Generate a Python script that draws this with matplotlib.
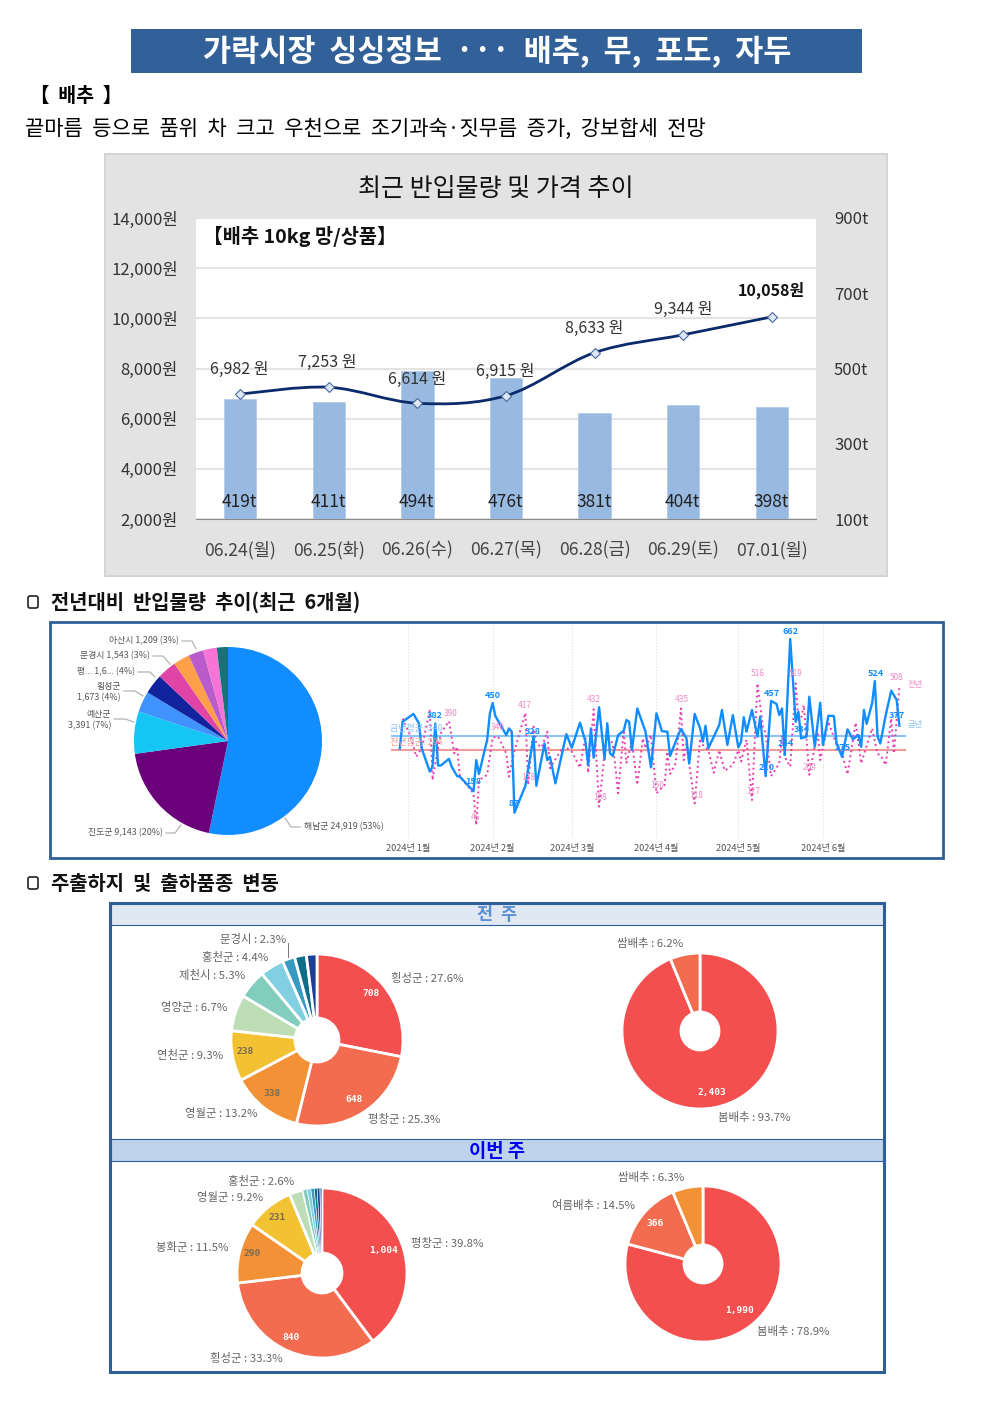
import matplotlib

matplotlib.use("Agg")
import matplotlib.pyplot as plt
from matplotlib.patches import FancyBboxPatch, PathPatch, Rectangle
from matplotlib.path import Path

plt.rcParams["font.family"] = ["Noto Sans CJK KR", "DejaVu Sans"]

W, H = 992, 1403

# top chart
dates = ["06.24(월)", "06.25(화)", "06.26(수)", "06.27(목)", "06.28(금)", "06.29(토)", "07.01(월)"]
volumes = [419, 411, 494, 476, 381, 404, 398]
prices = [6982, 7253, 6614, 6915, 8633, 9344, 10058]
price_ticks = [2000, 4000, 6000, 8000, 10000, 12000, 14000]
volume_ticks = [100, 300, 500, 700, 900]

# daily series, day number counted from 2024-01-01
this_year_days = [-3, -2, 2, 4, 5, 8, 9, 10, 11, 12, 15, 16, 18, 19, 24, 25, 26, 29, 30, 31, 32, 36, 37, 38, 39,
                  43, 46, 47, 50, 51, 52, 54, 58, 60, 63, 65, 66, 67, 68, 70, 72, 73, 74, 75, 77, 79, 80, 81, 82,
                  84, 87, 89, 91, 93, 95, 96, 99, 100, 102, 103, 105, 107, 108, 109, 110, 114, 115, 117, 119,
                  121, 122, 123, 124, 126, 128, 129, 131, 133, 135, 136, 137, 138, 140, 142, 143, 144, 146, 147,
                  149, 151, 152, 154, 156, 157, 159, 161, 163, 165, 166, 167, 168, 170, 171, 172, 173, 175, 177,
                  179, 180]
this_year = [300, 388, 414, 383, 300, 223, 239, 382, 243, 243, 265, 239, 208, 206, 158, 261, 215, 328, 416, 450,
             407, 344, 366, 355, 87, 176, 339, 176, 316, 261, 272, 184, 347, 302, 385, 322, 245, 366, 269, 436,
             264, 383, 283, 275, 344, 358, 394, 388, 294, 432, 355, 237, 416, 357, 355, 275, 344, 364, 333, 250,
             414, 366, 322, 375, 300, 377, 427, 311, 410, 303, 322, 403, 355, 427, 339, 405, 208, 457, 447, 410,
             432, 278, 662, 388, 421, 333, 339, 471, 305, 451, 311, 408, 407, 316, 272, 363, 330, 344, 305, 427,
             381, 449, 523, 339, 316, 410, 491, 460, 375]
last_year_days = [-2, 1, 3, 5, 8, 9, 10, 12, 15, 17, 18, 19, 24, 25, 26, 29, 31, 33, 36, 37, 39, 43, 44, 46, 47,
                  49, 51, 52, 57, 60, 63, 65, 66, 68, 70, 72, 73, 75, 77, 79, 80, 82, 84, 86, 87, 89, 91, 94, 95,
                  96, 98, 100, 101, 102, 103, 105, 107, 108, 110, 112, 114, 116, 119, 121, 122, 124, 126, 128,
                  130, 131, 133, 136, 137, 138, 140, 142, 143, 144, 145, 147, 150, 151, 154, 157, 159, 161, 164,
                  166, 170, 172, 173, 175, 177, 178, 180]
last_year = [399, 339, 272, 300, 425, 195, 250, 350, 390, 283, 305, 206, 151, 46, 195, 212, 336, 339, 283, 206,
             292, 417, 179, 372, 316, 303, 355, 234, 308, 289, 236, 339, 219, 429, 107, 283, 339, 316, 151, 361,
             252, 322, 179, 333, 300, 344, 151, 179, 289, 215, 250, 432, 261, 316, 250, 118, 333, 311, 294, 219,
             294, 226, 245, 294, 256, 328, 129, 515, 372, 350, 208, 250, 344, 272, 239, 515, 394, 399, 443, 212,
             355, 261, 388, 311, 283, 214, 385, 250, 366, 281, 278, 245, 399, 283, 504]
this_year_mean = 340
last_year_mean = 294
month_days = [0, 31, 60, 91, 121, 152]
month_labels = ["2024년 1월", "2024년 2월", "2024년 3월", "2024년 4월", "2024년 5월", "2024년 6월"]

# region pie (last slices have no label in the picture)
region_values = [24919, 9143, 3391, 1673, 1600, 1543, 1300, 1209, 1100, 900]
region_colors = ["#118DFF", "#6B007B", "#15C6F4", "#4092FF", "#12239E", "#E044A7", "#FF9F4A", "#B95BC8", "#F774D7", "#197278"]

# shipping regions and varieties
last_week_region = [708, 648, 338, 238, 172, 136, 113, 59, 56, 50]
this_week_region = [1004, 840, 290, 231, 66, 20, 18, 16, 14, 13, 10]
last_week_kind = [2403, 159]
this_week_kind = [1990, 366, 159]
donut_colors = ["#F44F4F", "#F36C4F", "#F29135", "#F2C233", "#BCDDB5", "#82CDBC", "#80D0E2", "#379AC0", "#0F6E87", "#1B3F94", "#6C8EBF"]

NAVY = "#2F5F99"
GREY = "#666666"


def px_axes(fig, left, top, right, bottom, **kwargs):
    return fig.add_axes([left / W, 1 - bottom / H, (right - left) / W, (bottom - top) / H], **kwargs)


def donut(fig, cx, cy, r, hole, values, colors):
    ax = px_axes(fig, cx - r - 2, cy - r - 2, cx + r + 2, cy + r + 2)
    wedges, _ = ax.pie(values, colors=colors, startangle=90, counterclock=False, radius=r,
                       wedgeprops={"width": r - hole, "edgecolor": "white", "linewidth": 2, "joinstyle": "round"})
    # very thin slices would vanish under the full white edge
    for wedge, value in zip(wedges, values):
        if value / sum(values) < 0.015:
            wedge.set_linewidth(0.4)
    ax.set_xlim(-r - 2, r + 2)
    ax.set_ylim(-r - 2, r + 2)
    ax.axis("off")
    return ax


def smooth_path(xs, ys):
    verts = [(xs[0], ys[0])]
    codes = [Path.MOVETO]
    n = len(xs)
    for i in range(n - 1):
        x0, y0 = xs[max(i - 1, 0)], ys[max(i - 1, 0)]
        x3, y3 = xs[min(i + 2, n - 1)], ys[min(i + 2, n - 1)]
        verts += [(xs[i] + (xs[i + 1] - x0) / 6, ys[i] + (ys[i + 1] - y0) / 6),
                  (xs[i + 1] - (x3 - xs[i]) / 6, ys[i + 1] - (y3 - ys[i]) / 6),
                  (xs[i + 1], ys[i + 1])]
        codes += [Path.CURVE4] * 3
    return Path(verts, codes)


fig = plt.figure(figsize=(W / 100, H / 100), dpi=100, facecolor="white")
page = fig.add_axes([0, 0, 1, 1], zorder=0)
page.set_xlim(0, W)
page.set_ylim(H, 0)
page.axis("off")
# text that sits on top of the charts goes here
top = fig.add_axes([0, 0, 1, 1], zorder=10)
top.set_xlim(0, W)
top.set_ylim(H, 0)
top.axis("off")

# headings
page.add_patch(Rectangle((131, 29), 731, 44, facecolor="#326098", edgecolor="none"))
page.text(497, 52, "가락시장  싱싱정보  ···  배추,  무,  포도,  자두", color="white", fontsize=22, fontweight="bold", ha="center", va="center")
page.text(30, 96, "【  배추  】", fontsize=14, fontweight="bold", ha="left", va="center", color="black")
page.text(25, 129, "끝마름  등으로  품위  차  크고  우천으로  조기과숙·짓무름  증가,  강보합세  전망", fontsize=15.1, ha="left", va="center", color="black")

# top chart
page.add_patch(Rectangle((105, 154), 782, 422, facecolor="#E3E3E3", edgecolor="#D4D4D4", linewidth=1.5))
page.text(496, 189, "최근 반입물량 및 가격 추이", fontsize=18, fontweight="medium", ha="center", va="center", color="#111111")

ax = px_axes(fig, 196, 218, 816, 519, zorder=1)
ax.set_xlim(-0.5, 6.5)
ax.set_ylim(min(price_ticks), max(price_ticks))
ax.set_yticks(price_ticks)
ax.set_yticklabels([f"{p:,}원" for p in price_ticks], fontsize=12, color="#333333")
ax.set_xticks(range(len(dates)))
ax.set_xticklabels(dates, fontsize=12.6, color="#444444")
ax.tick_params(axis="y", length=0, pad=13)
ax.tick_params(axis="x", length=0, pad=16)
ax.grid(axis="y", color="#E4E4E4", linewidth=1.5)
ax.set_axisbelow(True)
for side in ["top", "right", "left"]:
    ax.spines[side].set_visible(False)
ax.spines["bottom"].set_color("#8A8A8A")

ax_vol = ax.twinx()
ax_vol.set_zorder(2)
ax_vol.patch.set_visible(False)
ax_vol.bar(range(len(dates)), volumes, width=0.365, color="#98B9E0", edgecolor="#B4CBE8", linewidth=0.6)
ax_vol.set_ylim(min(volume_ticks), max(volume_ticks))
ax_vol.set_yticks(volume_ticks)
ax_vol.set_yticklabels([f"{v}t" for v in volume_ticks], fontsize=12, color="#333333")
ax_vol.tick_params(axis="y", length=0, pad=13)
for side in ["top", "left", "bottom", "right"]:
    ax_vol.spines[side].set_visible(False)

ax_line = ax.twinx()
ax_line.set_zorder(3)
ax_line.patch.set_visible(False)
ax_line.set_ylim(min(price_ticks), max(price_ticks))
ax_line.set_yticks([])
for side in ["top", "left", "bottom", "right"]:
    ax_line.spines[side].set_visible(False)
ax_line.add_patch(PathPatch(smooth_path(list(range(len(prices))), prices), facecolor="none", edgecolor="#0B2A6B", linewidth=2))
ax_line.plot(range(len(prices)), prices, linestyle="none", marker="D", markersize=5, markerfacecolor="#DCE6F4", markeredgecolor="#4A69A0", markeredgewidth=0.8)

top.text(203, 236, "【배추 10kg 망/상품】", fontsize=14.2, fontweight="bold", ha="left", va="center", color="#111111")
price_label_pos = [(239, 369), (327, 362), (417, 379), (505, 371), (594, 328), (683, 309)]
for p, (x, y) in zip(prices[:-1], price_label_pos):
    top.text(x, y, f"{p:,} 원", fontsize=11.5, ha="center", va="center", color="#333333")
top.text(771, 290, f"{prices[-1]:,}원", fontsize=11.5, fontweight="bold", ha="center", va="center", color="#111111")
for i, v in enumerate(volumes):
    top.text(239.5 + i * 88.6, 502, f"{v}t", fontsize=12.5, fontweight="medium", ha="center", va="center", color="#222222")

# section 2
for y, label in [(602, "전년대비  반입물량  추이(최근  6개월)"), (883, "주출하지  및  출하품종  변동")]:
    page.add_patch(FancyBboxPatch((28, y - 6), 10, 12, boxstyle="round,pad=0,rounding_size=2", facecolor="white", edgecolor="#222222", linewidth=1.2))
    page.text(51, y, label, fontsize=14.3, fontweight="bold", ha="left", va="center", color="#111111")

page.add_patch(Rectangle((50, 622), 893, 236, facecolor="white", edgecolor=NAVY, linewidth=2))

ax_region = px_axes(fig, 132, 645, 324, 837, zorder=2)
ax_region.pie(region_values, colors=region_colors, startangle=90, counterclock=False, radius=94,
              wedgeprops={"edgecolor": "none"})
ax_region.set_xlim(-96, 96)
ax_region.set_ylim(-96, 96)
ax_region.axis("off")

region_labels = [("아산시 1,209 (3%)", 179, 641, "right"), ("문경시 1,543 (3%)", 150, 656, "right"),
                 ("평... 1,6... (4%)", 135, 672, "right"), ("횡성군\n1,673 (4%)", 121, 692, "right"),
                 ("예산군\n3,391 (7%)", 111, 720, "right"), ("진도군 9,143 (20%)", 163, 833, "right"),
                 ("해남군 24,919 (53%)", 304, 827, "left")]
for text, x, y, align in region_labels:
    top.text(x, y, text, fontsize=6.4, ha=align, va="center", color="#555555", linespacing=1.25)
leaders = [([182, 192, 196], [641, 641, 649]), ([153, 163, 170], [656, 656, 664]), ([138, 150, 155], [672, 672, 677]),
           ([124, 135, 143], [691, 691, 696]), ([114, 125, 134], [719, 719, 722]), ([166, 175, 181], [833, 833, 825]),
           ([300, 291, 285], [827, 827, 818])]
for xs, ys in leaders:
    top.plot(xs, ys, color="#ABABAB", linewidth=0.8)

# daily series
ax_ts = px_axes(fig, 385, 625, 935, 838, zorder=2)
ax_ts.set_xlim((385 - 408) / 2.73, (935 - 408) / 2.73)
ax_ts.set_ylim(662 - (838 - 639) / 0.302, 662 - (625 - 639) / 0.302)
ax_ts.patch.set_visible(False)
ax_ts.set_xticks(month_days)
ax_ts.set_xticklabels(month_labels, fontsize=6.6, fontweight="medium", color="#555555")
ax_ts.set_yticks([])
ax_ts.tick_params(axis="x", length=0, pad=4)
ax_ts.grid(axis="x", color="#DDDDDD", linestyle=":", linewidth=0.8)
for side in ["top", "left", "bottom", "right"]:
    ax_ts.spines[side].set_visible(False)
mean_start, mean_end = (392 - 408) / 2.73, (905 - 408) / 2.73
ax_ts.plot([mean_start, mean_end], [this_year_mean, this_year_mean], color="#8CC4FA", linewidth=1.5)
ax_ts.plot([mean_start, mean_end], [last_year_mean, last_year_mean], color="#EE9B9B", linewidth=1.5)
ax_ts.plot(last_year_days, last_year, color="#E83DB0", linestyle=":", linewidth=1.4)
ax_ts.plot(this_year_days, this_year, color="#118DFF", linewidth=1.7)

blue_labels = [("450", 493, 695), ("382", 435, 715), ("158", 473, 782), ("87", 514, 804), ("328", 533, 732), ("662", 791, 631),
               ("457", 772, 693), ("524", 876, 673), ("377", 897, 716), ("210", 767, 767), ("244", 786, 744), ("334", 802, 730), ("275", 843, 748)]
pink_labels = [("390", 451, 713), ("417", 525, 705), ("432", 594, 700), ("340", 498, 727), ("138", 528, 778), ("108", 600, 798), ("150", 657, 785),
               ("435", 682, 699), ("118", 696, 795), ("516", 758, 674), ("127", 753, 792), ("519", 796, 674), ("209", 810, 767), ("508", 897, 677), ("46", 476, 817)]
for text, x, y in blue_labels:
    top.text(x, y, text, fontsize=6.5, fontweight="bold", ha="center", va="center", color="#118DFF")
for text, x, y in pink_labels:
    top.text(x, y, text, fontsize=6, ha="center", va="center", color="#EE8CC6")
top.text(416, 729, "금년평균: 340", fontsize=6.5, ha="center", va="center", color="#8CC4FA")
top.text(416, 742, "전년평균: 294", fontsize=6.5, ha="center", va="center", color="#EE9B9B")
top.text(915, 685, "전년", fontsize=6, ha="center", va="center", color="#EE8CC6")
top.text(915, 724, "금년", fontsize=6, ha="center", va="center", color="#8CC4FA")

# section 3
page.add_patch(Rectangle((110, 903), 774, 469, facecolor="white", edgecolor=NAVY, linewidth=2.2))
page.add_patch(Rectangle((111, 904), 772, 21, facecolor="#DFE8F3", edgecolor=NAVY, linewidth=0.8))
page.add_patch(Rectangle((111, 1139), 772, 22, facecolor="#BFD3EB", edgecolor=NAVY, linewidth=0.8))
page.text(497, 915.5, "전  주", fontsize=12.5, fontweight="bold", ha="center", va="center", color="#5B8FD0")
page.text(497, 1151.5, "이번 주", fontsize=13.5, fontweight="bold", ha="center", va="center", color="#0000F0")

donut(fig, 317, 1040, 86, 22, last_week_region, donut_colors)
donut(fig, 700, 1031, 78, 19, last_week_kind, donut_colors)
donut(fig, 322, 1273, 85, 20, this_week_region, donut_colors)
donut(fig, 703, 1264, 78, 19, this_week_kind, ["#F44F4F", "#F36C4F", "#F29135"])

share_labels = [("문경시 : 2.3%", 253, 940), ("홍천군 : 4.4%", 235, 957), ("제천시 : 5.3%", 212, 975), ("영양군 : 6.7%", 194, 1007),
                ("연천군 : 9.3%", 190, 1055), ("영월군 : 13.2%", 221, 1113), ("횡성군 : 27.6%", 427, 978), ("평창군 : 25.3%", 404, 1120),
                ("쌈배추 : 6.2%", 650, 943), ("봄배추 : 93.7%", 754, 1117),
                ("홍천군 : 2.6%", 261, 1181), ("영월군 : 9.2%", 230, 1197), ("봉화군 : 11.5%", 192, 1248), ("평창군 : 39.8%", 447, 1243),
                ("횡성군 : 33.3%", 246, 1358), ("쌈배추 : 6.3%", 651, 1178), ("여름배추 : 14.5%", 594, 1206), ("봄배추 : 78.9%", 793, 1332)]
for text, x, y in share_labels:
    top.text(x, y, text, fontsize=8.2, ha="center", va="center", color=GREY)
top.plot([288, 288], [943, 957], color="#777777", linewidth=0.7)

value_labels = [("708", 371, 994, "white"), ("648", 354, 1099, "white"), ("338", 272, 1094, "#7A6A50"), ("238", 245, 1052, "#7A6A50"),
                ("2,403", 712, 1093, "white"), ("1,004", 384, 1251, "white"), ("840", 291, 1338, "white"), ("290", 252, 1254, "#7A6A50"),
                ("231", 277, 1217, "#7A6A50"), ("1,990", 740, 1311, "white"), ("366", 655, 1223, "white")]
for text, x, y, color in value_labels:
    top.text(x, y, text, fontsize=6.8, fontfamily="DejaVu Sans Mono", fontweight="bold", ha="center", va="center", color=color)

fig.savefig("out.png", dpi=100)
plt.close(fig)
